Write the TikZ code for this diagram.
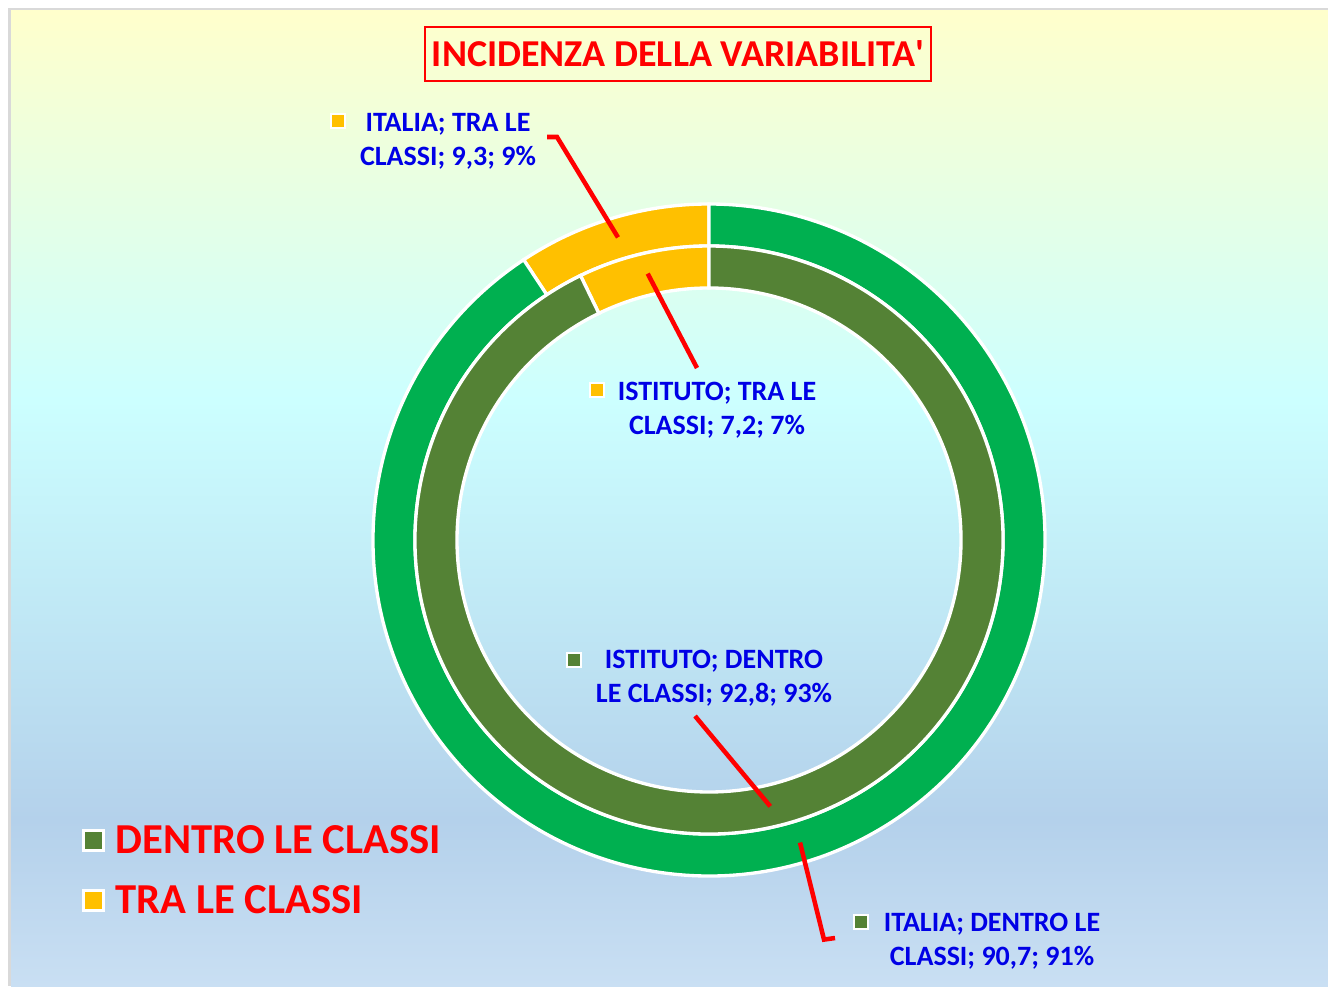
\documentclass[tikz,border=0pt]{standalone}
\usepackage{fontspec}
\setmainfont{Carlito}
\usetikzlibrary{positioning}
\definecolor{outergreen}{RGB}{0,176,80}
\definecolor{innergreen}{RGB}{84,130,53}
\definecolor{tragold}{RGB}{255,192,0}
\definecolor{labelblue}{RGB}{0,0,230}
\definecolor{bgyellow}{RGB}{255,255,204}
\definecolor{bgcyan}{RGB}{204,255,255}
\definecolor{bgblue}{RGB}{180,209,235}
\definecolor{bglight}{RGB}{201,223,243}

% colour, inner radius, outer radius, start angle, end angle
\newcommand{\ringslice}[5]{%
  \filldraw[fill = #1, draw = white, line width = 2.5pt]
    (#4:#3) arc[start angle = #4, end angle = #5, radius = #3]
    -- (#5:#2) arc[start angle = #5, end angle = #4, radius = #2] -- cycle;}

\begin{document}
\begin{tikzpicture}[x = 0.75pt, y = 0.75pt,
  leader/.style = {draw = red, line width = 3.4pt},
  datalabel/.style = {text = labelblue, align = center, inner sep = 0pt,
    font = \fontsize{21}{25.5}\selectfont\bfseries},
  datamark/.style = {draw = white, line width = 1.5pt, minimum size = 10pt, inner sep = 0pt},
  legmark/.style = {draw = white, line width = 2.25pt, minimum size = 15pt, inner sep = 0pt},
  legtext/.style = {text = red, inner sep = 0pt, font = \fontsize{32}{38}\selectfont\bfseries}]
  \useasboundingbox (0,0) rectangle (1328,986);
  % background
  \fill[white] (0,0) rectangle (1328,986);
  \fill[black!15] (8,0) rectangle (1328,978);
  \shade[top color = bgyellow, bottom color = bgcyan] (11,586) rectangle (1328,975);
  \shade[top color = bgcyan, bottom color = bgblue] (11,166) rectangle (1328,586.5);
  \shade[top color = bgblue, bottom color = bglight] (11,0) rectangle (1328,166.5);

  % title
  \node (title) [draw = red, line width = 1.5pt, text = red, inner xsep = 5pt, minimum height = 40pt,
    font = \fontsize{28.5}{34}\selectfont\bfseries] at (678,932) {INCIDENZA DELLA VARIABILITA\textquotesingle};

  % rings
  \coordinate (centre) at (709,446);
  \begin{scope}[shift = {(centre)}]
    \ringslice{tragold}{220.5pt}{252pt}{90}{123.48}
    \ringslice{outergreen}{220.5pt}{252pt}{123.48}{450}
    \ringslice{tragold}{189pt}{220.5pt}{90}{115.92}
    \ringslice{innergreen}{189pt}{220.5pt}{115.92}{450}
  \end{scope}
  \coordinate (italiatra) at ([shift = {(106.74:237pt)}]centre);
  \coordinate (istitutotra) at ([shift = {(102.96:205pt)}]centre);
  \coordinate (istitutodentro) at ([shift = {(282.96:205pt)}]centre);
  \coordinate (italiadentro) at ([shift = {(286.74:237pt)}]centre);

  % data labels
  \node (lab1) [datalabel] at (448,845) {ITALIA; TRA LE\\CLASSI; 9,3; 9\%};
  \node (mark1) [datamark, fill = tragold] at (338,865) {};
  \node (lab2) [datalabel] at (717,576) {ISTITUTO; TRA LE\\CLASSI; 7,2; 7\%};
  \node (mark2) [datamark, fill = tragold] at (597,596) {};
  \node (lab3) [datalabel] at (714,308) {ISTITUTO; DENTRO\\LE CLASSI; 92,8; 93\%};
  \node (mark3) [datamark, fill = innergreen] at (574,326) {};
  \node (lab4) [datalabel] at (992,45) {ITALIA; DENTRO LE\\CLASSI; 90,7; 91\%};
  \node (mark4) [datamark, fill = innergreen] at (861,64) {};

  \coordinate (k1) at (547,849);
  \coordinate (k2) at (697,618);
  \coordinate (k3) at (695,270);
  \coordinate (k4) at (835,48);
  \draw[leader] (k1) -- ++(10,0) -- (italiatra);
  \draw[leader] (istitutotra) -- (k2);
  \draw[leader] (k3) -- (istitutodentro);
  \draw[leader] (italiadentro) -- ++(24,-97) -- (k4);

  % legend
  \node (dentromark) [legmark, fill = innergreen] at (93,146) {};
  \node (dentro) [legtext, right = 8pt of dentromark] {DENTRO LE CLASSI};
  \node (tramark) [legmark, fill = tragold] at (93,86) {};
  \node (tra) [legtext, right = 8pt of tramark] {TRA LE CLASSI};
\end{tikzpicture}
\end{document}
